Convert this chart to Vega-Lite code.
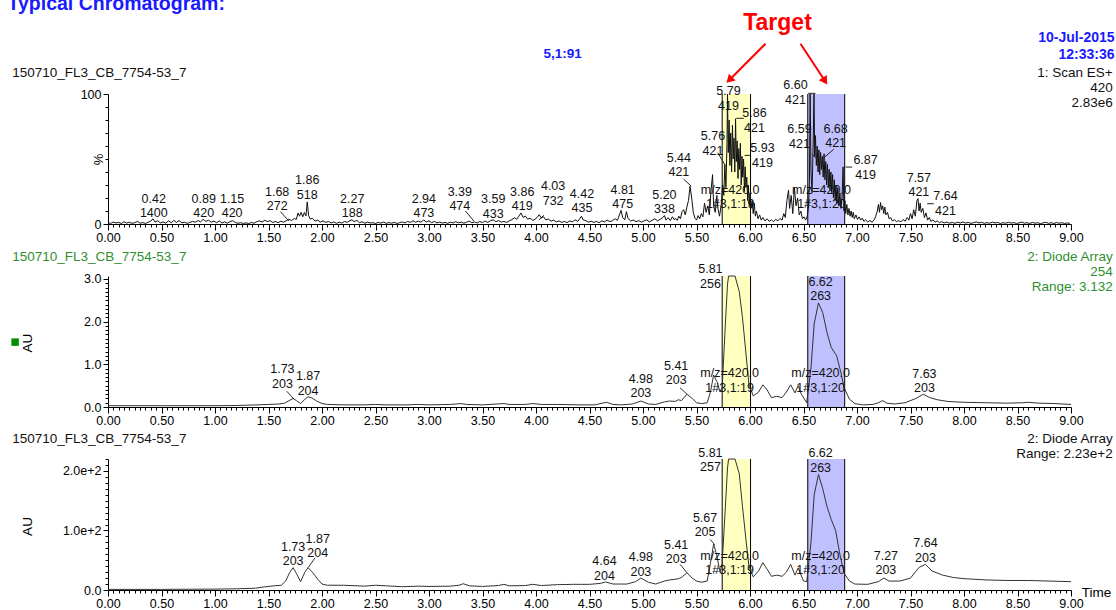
{
"$schema":"https://vega.github.io/schema/vega-lite/v6.json",
"padding":{"left":7,"top":-6,"right":2,"bottom":0},
"bounds":"flush",
"spacing":52,
"config":{
 "view":{"stroke":null},
 "font":"Liberation Sans",
 "axis":{"grid":false,"labelFont":"Liberation Sans","labelFontSize":12.5,"labelColor":"#000","tickColor":"#000","domainColor":"#000","titleFont":"Liberation Sans","titleFontSize":13,"titleFontWeight":"normal","titleColor":"#000","tickWidth":1,"domainWidth":1},
 "text":{"font":"Liberation Sans","fontSize":12.5,"color":"#111"}
},
"datasets":{
 "boxes":[{"t":5.74,"t2":6.005,"k":"a"},{"t":6.54,"t2":6.885,"k":"b"}],
 "edges":[{"t":5.74},{"t":6.005},{"t":6.54},{"t":6.885}],
 "ms":[{"t":0,"v":1.0},{"t":0.025,"v":0.5},{"t":0.05,"v":1.5},{"t":0.075,"v":0.8},{"t":0.1,"v":1.2},{"t":0.125,"v":0.4},{"t":0.15,"v":1.8},{"t":0.175,"v":0.7},{"t":0.2,"v":1.3},{"t":0.225,"v":0.5},{"t":0.25,"v":1.0},{"t":0.275,"v":2.0},{"t":0.3,"v":0.6},{"t":0.325,"v":1.1},{"t":0.35,"v":0.4},{"t":0.375,"v":1.4},{"t":0.4,"v":2.2},{"t":0.42,"v":4.0},{"t":0.44,"v":1.5},{"t":0.465,"v":2.5},{"t":0.49,"v":0.8},{"t":0.515,"v":1.6},{"t":0.54,"v":0.6},{"t":0.565,"v":2.4},{"t":0.59,"v":1.0},{"t":0.615,"v":2.8},{"t":0.64,"v":1.2},{"t":0.665,"v":2.6},{"t":0.69,"v":0.9},{"t":0.715,"v":1.4},{"t":0.74,"v":0.5},{"t":0.765,"v":1.2},{"t":0.79,"v":2.0},{"t":0.815,"v":1.4},{"t":0.84,"v":2.6},{"t":0.865,"v":1.7},{"t":0.89,"v":3.6},{"t":0.915,"v":2.0},{"t":0.94,"v":2.9},{"t":0.965,"v":1.4},{"t":0.99,"v":2.2},{"t":1.015,"v":1.0},{"t":1.04,"v":2.4},{"t":1.065,"v":0.8},{"t":1.09,"v":1.6},{"t":1.115,"v":0.6},{"t":1.14,"v":1.8},{"t":1.165,"v":2.6},{"t":1.19,"v":1.2},{"t":1.215,"v":0.5},{"t":1.24,"v":1.0},{"t":1.265,"v":0.4},{"t":1.29,"v":0.9},{"t":1.315,"v":0.3},{"t":1.34,"v":1.2},{"t":1.365,"v":0.6},{"t":1.39,"v":1.8},{"t":1.415,"v":2.4},{"t":1.44,"v":1.5},{"t":1.465,"v":2.9},{"t":1.49,"v":1.8},{"t":1.515,"v":2.6},{"t":1.54,"v":1.2},{"t":1.565,"v":2.0},{"t":1.59,"v":1.0},{"t":1.615,"v":2.2},{"t":1.64,"v":1.4},{"t":1.665,"v":2.5},{"t":1.69,"v":3.8},{"t":1.715,"v":2.6},{"t":1.74,"v":4.2},{"t":1.76,"v":3.5},{"t":1.775,"v":8.5},{"t":1.79,"v":6.0},{"t":1.805,"v":9.0},{"t":1.82,"v":5.5},{"t":1.835,"v":8.8},{"t":1.85,"v":6.2},{"t":1.862,"v":17.0},{"t":1.875,"v":6.5},{"t":1.89,"v":3.8},{"t":1.91,"v":4.4},{"t":1.935,"v":2.2},{"t":1.96,"v":3.0},{"t":1.985,"v":1.5},{"t":2.01,"v":2.4},{"t":2.035,"v":1.2},{"t":2.06,"v":2.0},{"t":2.085,"v":0.8},{"t":2.11,"v":1.6},{"t":2.135,"v":0.5},{"t":2.16,"v":1.4},{"t":2.185,"v":0.7},{"t":2.21,"v":2.0},{"t":2.235,"v":1.2},{"t":2.26,"v":2.6},{"t":2.28,"v":3.2},{"t":2.3,"v":1.8},{"t":2.325,"v":2.8},{"t":2.35,"v":1.0},{"t":2.375,"v":1.8},{"t":2.4,"v":0.6},{"t":2.425,"v":1.4},{"t":2.45,"v":0.8},{"t":2.475,"v":1.0},{"t":2.5,"v":0.4},{"t":2.525,"v":1.2},{"t":2.55,"v":0.7},{"t":2.575,"v":1.5},{"t":2.6,"v":0.5},{"t":2.625,"v":1.1},{"t":2.65,"v":0.6},{"t":2.675,"v":1.3},{"t":2.7,"v":0.4},{"t":2.725,"v":1.0},{"t":2.75,"v":1.6},{"t":2.775,"v":0.8},{"t":2.8,"v":2.0},{"t":2.825,"v":1.2},{"t":2.85,"v":2.5},{"t":2.875,"v":1.3},{"t":2.9,"v":2.2},{"t":2.925,"v":1.4},{"t":2.95,"v":3.0},{"t":2.975,"v":1.6},{"t":3.0,"v":2.4},{"t":3.025,"v":1.0},{"t":3.05,"v":2.0},{"t":3.075,"v":0.8},{"t":3.1,"v":1.5},{"t":3.125,"v":0.7},{"t":3.15,"v":1.2},{"t":3.175,"v":0.5},{"t":3.2,"v":1.4},{"t":3.225,"v":0.8},{"t":3.25,"v":1.8},{"t":3.275,"v":0.9},{"t":3.3,"v":1.5},{"t":3.325,"v":0.6},{"t":3.35,"v":1.3},{"t":3.375,"v":2.2},{"t":3.4,"v":1.0},{"t":3.425,"v":1.6},{"t":3.45,"v":0.8},{"t":3.475,"v":1.9},{"t":3.5,"v":1.1},{"t":3.525,"v":2.3},{"t":3.55,"v":1.2},{"t":3.575,"v":2.6},{"t":3.6,"v":3.2},{"t":3.625,"v":1.8},{"t":3.65,"v":2.6},{"t":3.675,"v":1.4},{"t":3.7,"v":2.0},{"t":3.725,"v":1.2},{"t":3.75,"v":2.4},{"t":3.775,"v":3.4},{"t":3.8,"v":4.8},{"t":3.82,"v":3.6},{"t":3.84,"v":6.0},{"t":3.86,"v":8.5},{"t":3.88,"v":5.0},{"t":3.9,"v":6.2},{"t":3.92,"v":3.8},{"t":3.945,"v":4.4},{"t":3.97,"v":2.8},{"t":3.99,"v":3.6},{"t":4.01,"v":5.0},{"t":4.03,"v":7.2},{"t":4.05,"v":4.6},{"t":4.07,"v":5.6},{"t":4.09,"v":3.2},{"t":4.115,"v":3.8},{"t":4.14,"v":2.2},{"t":4.165,"v":3.0},{"t":4.19,"v":1.6},{"t":4.215,"v":2.4},{"t":4.24,"v":1.2},{"t":4.265,"v":2.0},{"t":4.29,"v":1.0},{"t":4.315,"v":2.4},{"t":4.34,"v":1.6},{"t":4.365,"v":3.2},{"t":4.39,"v":2.0},{"t":4.41,"v":4.2},{"t":4.425,"v":6.0},{"t":4.44,"v":3.2},{"t":4.465,"v":2.6},{"t":4.49,"v":1.4},{"t":4.515,"v":2.2},{"t":4.54,"v":1.2},{"t":4.565,"v":2.0},{"t":4.59,"v":1.0},{"t":4.615,"v":2.4},{"t":4.64,"v":1.6},{"t":4.665,"v":3.0},{"t":4.69,"v":1.8},{"t":4.715,"v":2.6},{"t":4.74,"v":4.0},{"t":4.76,"v":2.8},{"t":4.78,"v":7.0},{"t":4.795,"v":10.5},{"t":4.81,"v":5.0},{"t":4.83,"v":3.2},{"t":4.845,"v":9.5},{"t":4.86,"v":4.2},{"t":4.885,"v":2.4},{"t":4.91,"v":3.0},{"t":4.935,"v":1.8},{"t":4.96,"v":2.6},{"t":4.985,"v":1.4},{"t":5.01,"v":2.4},{"t":5.035,"v":3.2},{"t":5.06,"v":1.6},{"t":5.085,"v":2.8},{"t":5.11,"v":4.0},{"t":5.135,"v":2.4},{"t":5.16,"v":3.6},{"t":5.185,"v":5.0},{"t":5.2,"v":6.5},{"t":5.215,"v":3.0},{"t":5.235,"v":4.8},{"t":5.255,"v":2.6},{"t":5.275,"v":5.6},{"t":5.29,"v":3.4},{"t":5.305,"v":4.2},{"t":5.32,"v":2.8},{"t":5.335,"v":6.0},{"t":5.35,"v":4.0},{"t":5.365,"v":9.5},{"t":5.38,"v":11.0},{"t":5.395,"v":7.0},{"t":5.41,"v":13.0},{"t":5.425,"v":18.0},{"t":5.44,"v":29.0},{"t":5.455,"v":20.0},{"t":5.47,"v":9.0},{"t":5.485,"v":4.5},{"t":5.5,"v":3.0},{"t":5.515,"v":6.5},{"t":5.53,"v":4.0},{"t":5.545,"v":8.0},{"t":5.56,"v":5.5},{"t":5.575,"v":16.0},{"t":5.59,"v":9.0},{"t":5.605,"v":14.0},{"t":5.62,"v":7.0},{"t":5.635,"v":25.0},{"t":5.65,"v":38.0},{"t":5.66,"v":14.0},{"t":5.675,"v":9.0},{"t":5.69,"v":22.0},{"t":5.7,"v":12.0},{"t":5.715,"v":6.0},{"t":5.73,"v":14.0},{"t":5.745,"v":30.0},{"t":5.755,"v":22.0},{"t":5.765,"v":46.0},{"t":5.775,"v":28.0},{"t":5.785,"v":62.0},{"t":5.79,"v":100},{"t":5.797,"v":55.0},{"t":5.805,"v":80.0},{"t":5.812,"v":45.0},{"t":5.82,"v":70.0},{"t":5.828,"v":40.0},{"t":5.836,"v":76.0},{"t":5.843,"v":50.0},{"t":5.85,"v":66.0},{"t":5.858,"v":40.0},{"t":5.865,"v":81.0},{"t":5.872,"v":48.0},{"t":5.88,"v":64.0},{"t":5.888,"v":35.0},{"t":5.895,"v":58.0},{"t":5.903,"v":42.0},{"t":5.91,"v":62.0},{"t":5.918,"v":30.0},{"t":5.925,"v":52.0},{"t":5.932,"v":36.0},{"t":5.94,"v":50.0},{"t":5.948,"v":25.0},{"t":5.955,"v":44.0},{"t":5.962,"v":28.0},{"t":5.97,"v":36.0},{"t":5.978,"v":18.0},{"t":5.985,"v":30.0},{"t":5.993,"v":14.0},{"t":6.0,"v":24.0},{"t":6.01,"v":12.0},{"t":6.02,"v":18.0},{"t":6.03,"v":8.0},{"t":6.04,"v":16.0},{"t":6.05,"v":6.0},{"t":6.06,"v":10.0},{"t":6.075,"v":4.0},{"t":6.09,"v":7.0},{"t":6.105,"v":3.0},{"t":6.12,"v":5.0},{"t":6.14,"v":2.4},{"t":6.16,"v":4.0},{"t":6.18,"v":2.0},{"t":6.2,"v":3.2},{"t":6.22,"v":1.8},{"t":6.24,"v":3.6},{"t":6.26,"v":2.4},{"t":6.28,"v":4.2},{"t":6.3,"v":3.0},{"t":6.315,"v":8.0},{"t":6.33,"v":5.0},{"t":6.345,"v":18.0},{"t":6.36,"v":26.0},{"t":6.37,"v":12.0},{"t":6.385,"v":22.0},{"t":6.4,"v":8.0},{"t":6.415,"v":28.0},{"t":6.43,"v":14.0},{"t":6.445,"v":20.0},{"t":6.46,"v":7.0},{"t":6.475,"v":10.0},{"t":6.49,"v":4.0},{"t":6.505,"v":5.5},{"t":6.52,"v":3.0},{"t":6.535,"v":6.0},{"t":6.545,"v":12.0},{"t":6.555,"v":30.0},{"t":6.562,"v":100},{"t":6.57,"v":40.0},{"t":6.58,"v":24.0},{"t":6.59,"v":60.0},{"t":6.598,"v":100},{"t":6.605,"v":52.0},{"t":6.612,"v":68.0},{"t":6.62,"v":45.0},{"t":6.628,"v":60.0},{"t":6.636,"v":40.0},{"t":6.644,"v":57.0},{"t":6.652,"v":38.0},{"t":6.66,"v":55.0},{"t":6.668,"v":42.0},{"t":6.676,"v":52.0},{"t":6.684,"v":36.0},{"t":6.692,"v":54.0},{"t":6.7,"v":34.0},{"t":6.708,"v":48.0},{"t":6.716,"v":30.0},{"t":6.724,"v":46.0},{"t":6.732,"v":28.0},{"t":6.74,"v":42.0},{"t":6.748,"v":26.0},{"t":6.756,"v":40.0},{"t":6.764,"v":24.0},{"t":6.772,"v":38.0},{"t":6.78,"v":20.0},{"t":6.788,"v":34.0},{"t":6.796,"v":18.0},{"t":6.804,"v":30.0},{"t":6.812,"v":16.0},{"t":6.82,"v":28.0},{"t":6.83,"v":14.0},{"t":6.84,"v":24.0},{"t":6.85,"v":12.0},{"t":6.86,"v":20.0},{"t":6.87,"v":44.0},{"t":6.878,"v":10.0},{"t":6.886,"v":18.0},{"t":6.895,"v":8.0},{"t":6.905,"v":15.0},{"t":6.915,"v":7.0},{"t":6.925,"v":12.0},{"t":6.935,"v":6.0},{"t":6.945,"v":10.0},{"t":6.955,"v":5.0},{"t":6.965,"v":9.0},{"t":6.975,"v":4.0},{"t":6.99,"v":7.0},{"t":7.005,"v":3.5},{"t":7.02,"v":5.5},{"t":7.035,"v":3.0},{"t":7.05,"v":4.5},{"t":7.065,"v":2.0},{"t":7.08,"v":3.2},{"t":7.1,"v":1.6},{"t":7.12,"v":2.6},{"t":7.14,"v":1.4},{"t":7.16,"v":3.0},{"t":7.175,"v":6.0},{"t":7.19,"v":10.0},{"t":7.2,"v":15.0},{"t":7.21,"v":9.0},{"t":7.22,"v":16.5},{"t":7.23,"v":11.0},{"t":7.24,"v":14.0},{"t":7.25,"v":8.0},{"t":7.26,"v":13.0},{"t":7.27,"v":7.0},{"t":7.285,"v":9.0},{"t":7.3,"v":4.0},{"t":7.315,"v":5.0},{"t":7.33,"v":2.4},{"t":7.35,"v":3.2},{"t":7.37,"v":1.8},{"t":7.39,"v":2.6},{"t":7.41,"v":1.6},{"t":7.43,"v":3.4},{"t":7.45,"v":2.2},{"t":7.47,"v":5.0},{"t":7.485,"v":3.0},{"t":7.5,"v":8.0},{"t":7.515,"v":4.0},{"t":7.53,"v":11.0},{"t":7.545,"v":6.0},{"t":7.56,"v":18.0},{"t":7.57,"v":19.5},{"t":7.58,"v":10.0},{"t":7.59,"v":16.0},{"t":7.6,"v":9.0},{"t":7.615,"v":12.0},{"t":7.63,"v":5.0},{"t":7.645,"v":8.5},{"t":7.66,"v":3.0},{"t":7.675,"v":5.0},{"t":7.69,"v":2.0},{"t":7.71,"v":3.2},{"t":7.73,"v":1.4},{"t":7.75,"v":2.4},{"t":7.77,"v":1.0},{"t":7.79,"v":1.8},{"t":7.815,"v":0.8},{"t":7.84,"v":1.5},{"t":7.865,"v":0.6},{"t":7.89,"v":1.2},{"t":7.915,"v":0.5},{"t":7.94,"v":1.4},{"t":7.965,"v":0.8},{"t":7.99,"v":1.6},{"t":8.015,"v":0.7},{"t":8.04,"v":1.2},{"t":8.065,"v":0.5},{"t":8.09,"v":1.0},{"t":8.115,"v":1.6},{"t":8.14,"v":0.8},{"t":8.165,"v":1.3},{"t":8.19,"v":0.5},{"t":8.215,"v":1.1},{"t":8.24,"v":0.6},{"t":8.265,"v":1.4},{"t":8.29,"v":0.8},{"t":8.315,"v":1.2},{"t":8.34,"v":0.4},{"t":8.365,"v":1.0},{"t":8.39,"v":0.6},{"t":8.415,"v":1.3},{"t":8.44,"v":0.7},{"t":8.465,"v":1.1},{"t":8.49,"v":0.4},{"t":8.515,"v":0.9},{"t":8.54,"v":1.5},{"t":8.565,"v":0.6},{"t":8.59,"v":1.0},{"t":8.615,"v":0.4},{"t":8.64,"v":1.2},{"t":8.665,"v":0.6},{"t":8.69,"v":1.0},{"t":8.715,"v":0.3},{"t":8.74,"v":0.9},{"t":8.765,"v":1.3},{"t":8.79,"v":0.5},{"t":8.815,"v":1.0},{"t":8.84,"v":0.4},{"t":8.865,"v":1.1},{"t":8.89,"v":0.6},{"t":8.915,"v":1.0},{"t":8.94,"v":0.4},{"t":8.965,"v":0.8},{"t":8.99,"v":0.5}],
 "uv2":[{"t":0,"v":0.03},{"t":0.5,"v":0.03},{"t":1.0,"v":0.03},{"t":1.2,"v":0.035},{"t":1.4,"v":0.05},{"t":1.5,"v":0.06},{"t":1.6,"v":0.07},{"t":1.65,"v":0.09},{"t":1.7,"v":0.16},{"t":1.73,"v":0.2},{"t":1.76,"v":0.15},{"t":1.8,"v":0.08},{"t":1.84,"v":0.18},{"t":1.87,"v":0.24},{"t":1.9,"v":0.22},{"t":1.95,"v":0.14},{"t":2.0,"v":0.08},{"t":2.05,"v":0.06},{"t":2.2,"v":0.05},{"t":2.4,"v":0.05},{"t":2.5,"v":0.06},{"t":2.6,"v":0.05},{"t":2.8,"v":0.05},{"t":2.9,"v":0.06},{"t":3.0,"v":0.05},{"t":3.2,"v":0.06},{"t":3.3,"v":0.08},{"t":3.35,"v":0.06},{"t":3.5,"v":0.05},{"t":3.7,"v":0.08},{"t":3.75,"v":0.06},{"t":3.9,"v":0.06},{"t":3.97,"v":0.08},{"t":4.05,"v":0.06},{"t":4.2,"v":0.06},{"t":4.4,"v":0.05},{"t":4.55,"v":0.05},{"t":4.62,"v":0.09},{"t":4.66,"v":0.11},{"t":4.72,"v":0.06},{"t":4.8,"v":0.05},{"t":4.9,"v":0.07},{"t":4.98,"v":0.14},{"t":5.05,"v":0.07},{"t":5.12,"v":0.06},{"t":5.2,"v":0.12},{"t":5.25,"v":0.14},{"t":5.3,"v":0.13},{"t":5.33,"v":0.17},{"t":5.36,"v":0.15},{"t":5.41,"v":0.3},{"t":5.46,"v":0.2},{"t":5.5,"v":0.1},{"t":5.55,"v":0.08},{"t":5.6,"v":0.1},{"t":5.63,"v":0.35},{"t":5.66,"v":0.75},{"t":5.69,"v":0.6},{"t":5.72,"v":0.35},{"t":5.74,"v":0.45},{"t":5.77,"v":1.95},{"t":5.79,"v":2.88},{"t":5.8,"v":3.07},{"t":5.86,"v":3.07},{"t":5.9,"v":2.7},{"t":5.93,"v":2.09},{"t":5.96,"v":1.31},{"t":5.99,"v":0.53},{"t":6.03,"v":0.26},{"t":6.08,"v":0.35},{"t":6.12,"v":0.52},{"t":6.16,"v":0.4},{"t":6.2,"v":0.22},{"t":6.25,"v":0.25},{"t":6.3,"v":0.22},{"t":6.34,"v":0.35},{"t":6.38,"v":0.52},{"t":6.42,"v":0.33},{"t":6.45,"v":0.5},{"t":6.48,"v":0.3},{"t":6.53,"v":0.1},{"t":6.57,"v":0.92},{"t":6.6,"v":1.95},{"t":6.64,"v":2.44},{"t":6.68,"v":2.21},{"t":6.72,"v":1.74},{"t":6.76,"v":1.39},{"t":6.81,"v":1.2},{"t":6.85,"v":0.8},{"t":6.88,"v":0.45},{"t":6.93,"v":0.18},{"t":6.98,"v":0.08},{"t":7.05,"v":0.05},{"t":7.15,"v":0.06},{"t":7.2,"v":0.1},{"t":7.24,"v":0.15},{"t":7.28,"v":0.09},{"t":7.35,"v":0.07},{"t":7.45,"v":0.1},{"t":7.55,"v":0.2},{"t":7.62,"v":0.3},{"t":7.68,"v":0.22},{"t":7.75,"v":0.17},{"t":7.85,"v":0.13},{"t":8.0,"v":0.11},{"t":8.2,"v":0.1},{"t":8.4,"v":0.09},{"t":8.55,"v":0.1},{"t":8.6,"v":0.11},{"t":8.7,"v":0.09},{"t":8.85,"v":0.08},{"t":9.0,"v":0.06}],
 "uv3":[{"t":0,"v":1},{"t":0.5,"v":1},{"t":1.0,"v":1.5},{"t":1.2,"v":2},{"t":1.38,"v":3},{"t":1.45,"v":5},{"t":1.55,"v":7},{"t":1.62,"v":8},{"t":1.66,"v":15},{"t":1.7,"v":30},{"t":1.73,"v":37.5},{"t":1.76,"v":28},{"t":1.8,"v":14},{"t":1.84,"v":30},{"t":1.87,"v":37.5},{"t":1.91,"v":30},{"t":1.96,"v":18},{"t":2.0,"v":10},{"t":2.05,"v":8},{"t":2.2,"v":8},{"t":2.4,"v":6.5},{"t":2.5,"v":8},{"t":2.6,"v":7},{"t":2.75,"v":5.5},{"t":2.9,"v":6.5},{"t":3.0,"v":6},{"t":3.2,"v":6.5},{"t":3.28,"v":8},{"t":3.32,"v":10.5},{"t":3.38,"v":7},{"t":3.5,"v":6},{"t":3.65,"v":7.5},{"t":3.7,"v":9.5},{"t":3.75,"v":7},{"t":3.9,"v":7.5},{"t":3.97,"v":9.5},{"t":4.05,"v":7.5},{"t":4.2,"v":9},{"t":4.35,"v":9.5},{"t":4.5,"v":9.5},{"t":4.6,"v":11},{"t":4.65,"v":13.5},{"t":4.72,"v":10},{"t":4.85,"v":10},{"t":4.93,"v":14},{"t":4.98,"v":20},{"t":5.05,"v":13},{"t":5.12,"v":10},{"t":5.2,"v":15},{"t":5.25,"v":17},{"t":5.3,"v":18},{"t":5.33,"v":19},{"t":5.36,"v":21},{"t":5.41,"v":29},{"t":5.46,"v":20},{"t":5.5,"v":15},{"t":5.55,"v":13},{"t":5.6,"v":15},{"t":5.63,"v":45},{"t":5.66,"v":77},{"t":5.69,"v":58},{"t":5.72,"v":30},{"t":5.74,"v":45},{"t":5.77,"v":140},{"t":5.79,"v":205},{"t":5.8,"v":220},{"t":5.86,"v":220},{"t":5.9,"v":195},{"t":5.93,"v":140},{"t":5.96,"v":88},{"t":5.99,"v":40},{"t":6.03,"v":22},{"t":6.08,"v":32},{"t":6.12,"v":46},{"t":6.16,"v":35},{"t":6.2,"v":23},{"t":6.25,"v":25},{"t":6.3,"v":23},{"t":6.34,"v":30},{"t":6.38,"v":43},{"t":6.42,"v":25},{"t":6.45,"v":37},{"t":6.5,"v":15},{"t":6.53,"v":14},{"t":6.57,"v":80},{"t":6.6,"v":160},{"t":6.64,"v":194},{"t":6.68,"v":170},{"t":6.72,"v":140},{"t":6.76,"v":118},{"t":6.8,"v":100},{"t":6.84,"v":60},{"t":6.88,"v":28},{"t":6.93,"v":15},{"t":6.98,"v":10},{"t":7.1,"v":9.5},{"t":7.2,"v":14},{"t":7.25,"v":20},{"t":7.3,"v":15},{"t":7.4,"v":15},{"t":7.5,"v":20},{"t":7.58,"v":38},{"t":7.64,"v":43},{"t":7.7,"v":32},{"t":7.8,"v":25},{"t":7.9,"v":21},{"t":8.0,"v":19},{"t":8.2,"v":17},{"t":8.4,"v":16},{"t":8.6,"v":16},{"t":8.8,"v":15},{"t":9.0,"v":14}],
 "lab1":[{"t":0.428,"v":14.2,"lab":"0.42\n1400"},{"t":0.895,"v":14.2,"lab":"0.89\n420"},{"t":1.16,"v":14.2,"lab":"1.15\n420"},{"t":1.581,"v":19.6,"lab":"1.68\n272"},{"t":1.862,"v":28.2,"lab":"1.86\n518"},{"t":2.282,"v":14.2,"lab":"2.27\n188"},{"t":2.952,"v":14.2,"lab":"2.94\n473"},{"t":3.288,"v":19.5,"lab":"3.39\n474"},{"t":3.6,"v":13.8,"lab":"3.59\n433"},{"t":3.871,"v":19.6,"lab":"3.86\n419"},{"t":4.16,"v":23.8,"lab":"4.03\n732"},{"t":4.43,"v":17.9,"lab":"4.42\n435"},{"t":4.81,"v":20.8,"lab":"4.81\n475"},{"t":5.2,"v":17,"lab":"5.20\n338"},{"t":5.335,"v":45.6,"lab":"5.44\n421"},{"t":5.654,"v":62.1,"lab":"5.76\n421"},{"t":5.799,"v":96.9,"lab":"5.79\n419"},{"t":6.042,"v":80,"lab":"5.86\n421"},{"t":6.117,"v":52.9,"lab":"5.93\n419"},{"t":6.425,"v":101.3,"lab":"6.60\n421"},{"t":6.463,"v":67.5,"lab":"6.59\n421"},{"t":6.8,"v":67.7,"lab":"6.68\n421"},{"t":7.08,"v":43.7,"lab":"6.87\n419"},{"t":7.578,"v":30.2,"lab":"7.57\n421"},{"t":7.827,"v":15.8,"lab":"7.64\n421"},{"t":5.815,"v":21,"lab":"m/z=420.0\n1#3,1:19"},{"t":6.668,"v":21,"lab":"m/z=420.0\n1#3,1:20"}],
 "lab2":[{"t":1.63,"v":0.72,"lab":"1.73\n203"},{"t":1.87,"v":0.56,"lab":"1.87\n204"},{"t":4.98,"v":0.5,"lab":"4.98\n203"},{"t":5.31,"v":0.8,"lab":"5.41\n203"},{"t":5.63,"v":3.06,"lab":"5.81\n256"},{"t":6.66,"v":2.77,"lab":"6.62\n263"},{"t":7.63,"v":0.61,"lab":"7.63\n203"},{"t":5.81,"v":0.63,"lab":"m/z=420.0\n1#3,1:19"},{"t":6.66,"v":0.63,"lab":"m/z=420.0\n1#3,1:20"}],
 "lab3":[{"t":1.73,"v":60.5,"lab":"1.73\n203"},{"t":1.96,"v":73.9,"lab":"1.87\n204"},{"t":4.64,"v":36.9,"lab":"4.64\n204"},{"t":4.98,"v":43.1,"lab":"4.98\n203"},{"t":5.31,"v":64.1,"lab":"5.41\n203"},{"t":5.58,"v":109.4,"lab":"5.67\n205"},{"t":5.63,"v":218.6,"lab":"5.81\n257"},{"t":6.66,"v":218,"lab":"6.62\n263"},{"t":7.27,"v":45.9,"lab":"7.27\n203"},{"t":7.64,"v":66.6,"lab":"7.64\n203"},{"t":5.81,"v":45.9,"lab":"m/z=420.0\n1#3,1:19"},{"t":6.66,"v":45.9,"lab":"m/z=420.0\n1#3,1:20"}],
 "lead1":[{"t":1.612,"v":9.5,"t2":1.69,"v2":2.3},{"t":3.341,"v":10,"t2":3.419,"v2":2.3},{"t":4.073,"v":6.7,"t2":4.026,"v2":3.1},{"t":5.381,"v":34.4,"t2":5.45,"v2":29.2},{"t":5.699,"v":54.8,"t2":5.762,"v2":45.9},{"t":5.871,"v":81.3,"t2":5.942,"v2":81.3},{"t":5.949,"v":52.8,"t2":6.005,"v2":52.8},{"t":6.544,"v":100.5,"t2":6.612,"v2":100.5},{"t":6.581,"v":53.6,"t2":6.628,"v2":49.8},{"t":6.783,"v":57.5,"t2":6.69,"v2":51},{"t":6.893,"v":43.8,"t2":6.955,"v2":43.8},{"t":7.656,"v":15.6,"t2":7.718,"v2":15.6}],
 "lead2":[{"t":1.67,"v":0.37,"t2":1.74,"v2":0.18},{"t":5.346,"v":0.45,"t2":5.411,"v2":0.3}],
 "lead3":[{"t":1.935,"v":54,"t2":1.87,"v2":37.5},{"t":5.346,"v":43.2,"t2":5.411,"v2":29},{"t":5.628,"v":85,"t2":5.67,"v2":76}],
 "ann1":[{"r":"title","t":-0.939,"v":164.4,"s":"Typical Chromatogram:"},{"r":"target","t":6.257,"v":149,"s":"Target"},{"r":"blueC","t":4.248,"v":127.7,"s":"5,1:91"},{"r":"blueR","t":9.407,"v":140.2,"s":"10-Jul-2015"},{"r":"blueR","t":9.407,"v":126.7,"s":"12:33:36"},{"r":"sample","t":-0.895,"v":112.7,"s":"150710_FL3_CB_7754-53_7"},{"r":"info","t":9.39,"v":113.1,"s":"1: Scan ES+"},{"r":"info","t":9.39,"v":101.5,"s":"420"},{"r":"info","t":9.39,"v":90,"s":"2.83e6"}],
 "ann2":[{"r":"sample","t":-0.895,"v":3.43,"s":"150710_FL3_CB_7754-53_7"},{"r":"info","t":9.39,"v":3.43,"s":"2: Diode Array"},{"r":"info","t":9.39,"v":3.07,"s":"254"},{"r":"info","t":9.39,"v":2.72,"s":"Range: 3.132"}],
 "ann3":[{"r":"sample","t":-0.895,"v":247.7,"s":"150710_FL3_CB_7754-53_7"},{"r":"info","t":9.39,"v":247.7,"s":"2: Diode Array"},{"r":"info","t":9.39,"v":222.5,"s":"Range: 2.23e+2"}],
 "sq":[{"t":-0.868,"v":1.52}],
 "arrows":[{"t":6.145,"v":138.7,"t2":5.807,"v2":110.8,"k":"L"},{"t":6.472,"v":138.7,"t2":6.701,"v2":110,"k":"R"}]
},
"vconcat":[
{
 "width":963,"height":130,
 "encoding":{
  "x":{"field":"t","type":"quantitative","scale":{"domain":[0,9],"nice":false,"zero":false},"axis":{"title":null,"tickCount":180,"labelOverlap":false,"labelFlush":false,"labelExpr":"abs(datum.value*2-round(datum.value*2))<0.001 ? format(datum.value,'.2f') : ''","tickSize":{"condition":{"test":"abs(datum.value*2-round(datum.value*2))<0.001","value":6},"value":3},"labelPadding":1}},
  "y":{"field":"v","type":"quantitative","scale":{"domain":[0,100],"nice":false,"zero":false},"axis":{"title":"%","tickCount":10,"labelOverlap":false,"labelExpr":"datum.value==0||datum.value==100 ? datum.label : ''","tickSize":{"condition":{"test":"datum.value==0||datum.value==100","value":5},"value":3},"labelPadding":2,"titleX":-10,"titleY":65,"titleAngle":270,"titleAlign":"center","titleBaseline":"middle"}}
 },
 "layer":[
  {"data":{"name":"boxes"},"mark":{"type":"rect"},"encoding":{"x2":{"field":"t2"},"y":{"value":0},"y2":{"value":"height"},"color":{"field":"k","type":"nominal","scale":{"domain":["a","b"],"range":["#ffffc0","#c0c0ff"]},"legend":null}}},
  {"data":{"name":"edges"},"mark":{"type":"rule","color":"#000","strokeWidth":1},"encoding":{"y":{"value":0},"y2":{"value":"height"}}},
  {"data":{"name":"ms"},"mark":{"type":"line","color":"#111","strokeWidth":1},"encoding":{}},
  {"data":{"name":"lead1"},"mark":{"type":"rule","color":"#222","strokeWidth":1},"encoding":{"x2":{"field":"t2"},"y2":{"field":"v2"}}},
  {"data":{"name":"lab1"},"mark":{"type":"text","lineBreak":"\n","baseline":"middle","align":"center","lineHeight":14.5,"dy":-7},"encoding":{"text":{"field":"lab"}}},
  {"data":{"name":"ann1"},"transform":[{"filter":"datum.r=='title'"}],"mark":{"type":"text","align":"left","baseline":"alphabetic","fontSize":19.5,"fontWeight":"bold","color":"#1a1aff"},"encoding":{"text":{"field":"s"}}},
  {"data":{"name":"ann1"},"transform":[{"filter":"datum.r=='target'"}],"mark":{"type":"text","align":"center","baseline":"alphabetic","fontSize":23,"fontWeight":"bold","color":"#ff0000"},"encoding":{"text":{"field":"s"}}},
  {"data":{"name":"ann1"},"transform":[{"filter":"datum.r=='blueC'"}],"mark":{"type":"text","align":"center","baseline":"alphabetic","fontSize":13.5,"fontWeight":"bold","color":"#1a1aff"},"encoding":{"text":{"field":"s"}}},
  {"data":{"name":"ann1"},"transform":[{"filter":"datum.r=='blueR'"}],"mark":{"type":"text","align":"right","baseline":"alphabetic","fontSize":14,"fontWeight":"bold","color":"#1a1aff"},"encoding":{"text":{"field":"s"}}},
  {"data":{"name":"ann1"},"transform":[{"filter":"datum.r=='sample'"}],"mark":{"type":"text","align":"left","baseline":"alphabetic","fontSize":13.5,"color":"#111"},"encoding":{"text":{"field":"s"}}},
  {"data":{"name":"ann1"},"transform":[{"filter":"datum.r=='info'"}],"mark":{"type":"text","align":"right","baseline":"alphabetic","fontSize":13.5,"color":"#111"},"encoding":{"text":{"field":"s"}}},
  {"data":{"name":"arrows"},"mark":{"type":"rule","color":"#ff0000","strokeWidth":2},"encoding":{"x2":{"field":"t2"},"y2":{"field":"v2"}}},
  {"data":{"name":"arrows"},"transform":[{"filter":"datum.k=='L'"}],"mark":{"type":"point","shape":"triangle-up","filled":true,"color":"#ff0000","opacity":1,"size":90,"angle":225},"encoding":{"x":{"field":"t2","type":"quantitative"},"y":{"field":"v2","type":"quantitative"}}},
  {"data":{"name":"arrows"},"transform":[{"filter":"datum.k=='R'"}],"mark":{"type":"point","shape":"triangle-up","filled":true,"color":"#ff0000","opacity":1,"size":90,"angle":147},"encoding":{"x":{"field":"t2","type":"quantitative"},"y":{"field":"v2","type":"quantitative"}}}
 ]
},
{
 "width":963,"height":131,
 "encoding":{
  "x":{"field":"t","type":"quantitative","scale":{"domain":[0,9],"nice":false,"zero":false},"axis":{"title":null,"tickCount":180,"labelOverlap":false,"labelFlush":false,"labelExpr":"abs(datum.value*2-round(datum.value*2))<0.001 ? format(datum.value,'.2f') : ''","tickSize":{"condition":{"test":"abs(datum.value*2-round(datum.value*2))<0.001","value":6},"value":3},"labelPadding":1}},
  "y":{"field":"v","type":"quantitative","scale":{"domain":[0,3.07],"nice":false,"zero":false},"axis":{"title":"AU","tickCount":31,"labelOverlap":false,"labelExpr":"abs(datum.value-round(datum.value))<0.001 ? format(datum.value,'.1f') : ''","tickSize":{"condition":{"test":"abs(datum.value-round(datum.value))<0.001","value":5},"value":3},"labelPadding":2,"titleX":-80.7,"titleY":66.7,"titleAngle":270,"titleAlign":"center","titleBaseline":"middle","titleFontSize":13.5}}
 },
 "layer":[
  {"data":{"name":"boxes"},"mark":{"type":"rect"},"encoding":{"x2":{"field":"t2"},"y":{"value":0},"y2":{"value":"height"},"color":{"field":"k","type":"nominal","scale":{"domain":["a","b"],"range":["#ffffc0","#c0c0ff"]},"legend":null}}},
  {"data":{"name":"edges"},"mark":{"type":"rule","color":"#000","strokeWidth":1},"encoding":{"y":{"value":0},"y2":{"value":"height"}}},
  {"data":{"name":"uv2"},"mark":{"type":"line","color":"#333","strokeWidth":1},"encoding":{}},
  {"data":{"name":"lead2"},"mark":{"type":"rule","color":"#333","strokeWidth":1},"encoding":{"x2":{"field":"t2"},"y2":{"field":"v2"}}},
  {"data":{"name":"lab2"},"mark":{"type":"text","lineBreak":"\n","baseline":"middle","align":"center","lineHeight":14.5,"dy":-7},"encoding":{"text":{"field":"lab"}}},
  {"data":{"name":"ann2"},"transform":[{"filter":"datum.r=='sample'"}],"mark":{"type":"text","align":"left","baseline":"alphabetic","fontSize":13.5,"color":"#2f8f2f"},"encoding":{"text":{"field":"s"}}},
  {"data":{"name":"ann2"},"transform":[{"filter":"datum.r=='info'"}],"mark":{"type":"text","align":"right","baseline":"alphabetic","fontSize":13.5,"color":"#2f8f2f"},"encoding":{"text":{"field":"s"}}},
  {"data":{"name":"sq"},"mark":{"type":"point","shape":"square","filled":true,"color":"#009000","opacity":1,"size":56},"encoding":{}}
 ]
},
{
 "width":963,"height":131,
 "encoding":{
  "x":{"field":"t","type":"quantitative","scale":{"domain":[0,9],"nice":false,"zero":false},"axis":{"title":"Time","titleX":988,"titleY":2,"titleAlign":"center","titleBaseline":"middle","titleFontSize":13.5,"tickCount":180,"labelOverlap":false,"labelFlush":false,"labelExpr":"abs(datum.value*2-round(datum.value*2))<0.001 ? format(datum.value,'.2f') : ''","tickSize":{"condition":{"test":"abs(datum.value*2-round(datum.value*2))<0.001","value":6},"value":3},"labelPadding":1}},
  "y":{"field":"v","type":"quantitative","scale":{"domain":[0,220],"nice":false,"zero":false},"axis":{"title":"AU","tickCount":22,"labelOverlap":false,"labelExpr":"datum.value==0 ? '0.0' : (datum.value==100 ? '1.0e+2' : (datum.value==200 ? '2.0e+2' : ''))","tickSize":{"condition":{"test":"datum.value==0||datum.value==100||datum.value==200","value":5},"value":3},"labelPadding":2,"titleX":-80.7,"titleY":67,"titleAngle":270,"titleAlign":"center","titleBaseline":"middle","titleFontSize":13.5}}
 },
 "layer":[
  {"data":{"name":"boxes"},"mark":{"type":"rect"},"encoding":{"x2":{"field":"t2"},"y":{"value":0},"y2":{"value":"height"},"color":{"field":"k","type":"nominal","scale":{"domain":["a","b"],"range":["#ffffc0","#c0c0ff"]},"legend":null}}},
  {"data":{"name":"edges"},"mark":{"type":"rule","color":"#000","strokeWidth":1},"encoding":{"y":{"value":0},"y2":{"value":"height"}}},
  {"data":{"name":"uv3"},"mark":{"type":"line","color":"#333","strokeWidth":1},"encoding":{}},
  {"data":{"name":"lead3"},"mark":{"type":"rule","color":"#333","strokeWidth":1},"encoding":{"x2":{"field":"t2"},"y2":{"field":"v2"}}},
  {"data":{"name":"lab3"},"mark":{"type":"text","lineBreak":"\n","baseline":"middle","align":"center","lineHeight":14.5,"dy":-7},"encoding":{"text":{"field":"lab"}}},
  {"data":{"name":"ann3"},"transform":[{"filter":"datum.r=='sample'"}],"mark":{"type":"text","align":"left","baseline":"alphabetic","fontSize":13.5,"color":"#111"},"encoding":{"text":{"field":"s"}}},
  {"data":{"name":"ann3"},"transform":[{"filter":"datum.r=='info'"}],"mark":{"type":"text","align":"right","baseline":"alphabetic","fontSize":13.5,"color":"#111"},"encoding":{"text":{"field":"s"}}}
 ]
}
]
}
